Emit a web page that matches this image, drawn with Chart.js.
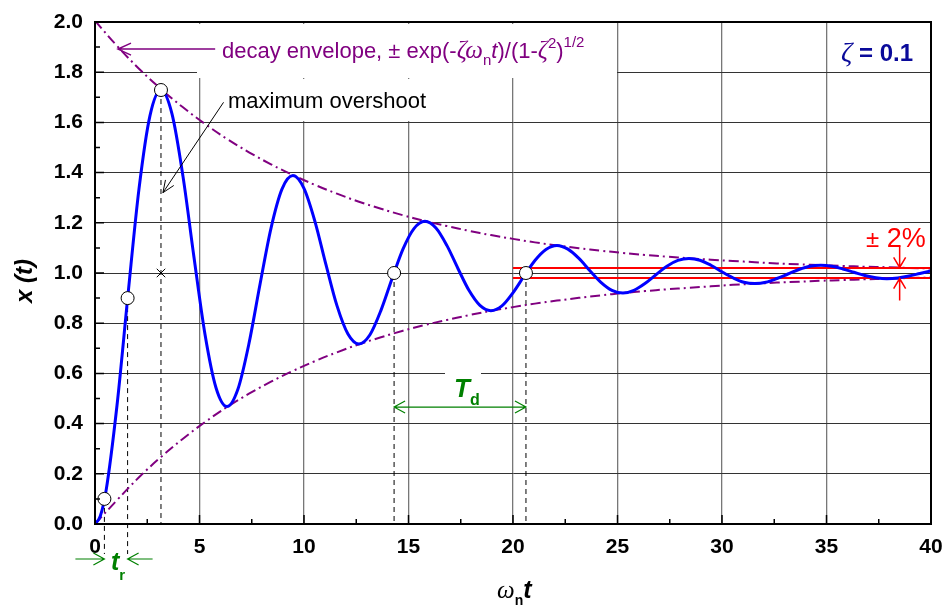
<!DOCTYPE html>
<html>
<head>
<meta charset="utf-8">
<script src="https://cdn.jsdelivr.net/npm/chart.js@4.4.0/dist/chart.umd.min.js"></script>
<style>
  html, body { margin: 0; padding: 0; background: #fff; }
  #wrap { width: 945px; height: 608px; }
</style>
</head>
<body>
<div id="wrap"><canvas id="resp"></canvas></div>
<script>
// step response, zeta = 0.1
const respT = [0, 0.25, 0.526, 1.052, 1.579, 2.105, 2.631, 3.157, 3.684, 4.210, 4.736, 5.262, 5.789, 6.315,
  6.841, 7.367, 7.894, 8.420, 8.946, 9.472, 9.998, 10.525, 11.051, 11.577, 12.103, 12.630, 13.156, 13.682,
  14.208, 14.735, 15.261, 15.787, 16.313, 16.840, 17.366, 17.892, 18.418, 18.944, 19.471, 19.997, 20.523,
  21.049, 21.576, 22.102, 22.628, 23.154, 23.681, 24.207, 24.733, 25.259, 25.786, 26.312, 26.838, 27.364,
  27.890, 28.417, 28.943, 29.469, 29.995, 30.522, 31.048, 31.574, 32.100, 32.627, 33.153, 33.679, 34.205,
  34.732, 35.258, 35.784, 36.310, 36.836, 37.363, 37.889, 38.415, 38.941, 39.468, 40.0];
const respX = [0, 0.031, 0.131, 0.472, 0.914, 1.335, 1.627, 1.729, 1.634, 1.385, 1.063, 0.756, 0.543, 0.468,
  0.538, 0.719, 0.954, 1.178, 1.334, 1.388, 1.337, 1.205, 1.033, 0.870, 0.757, 0.717, 0.754, 0.851,
  0.976, 1.095, 1.177, 1.206, 1.179, 1.109, 1.018, 0.931, 0.871, 0.850, 0.869, 0.921, 0.987,
  1.050, 1.094, 1.110, 1.095, 1.058, 1.009, 0.963, 0.931, 0.920, 0.931, 0.958, 0.993, 1.027,
  1.050, 1.058, 1.051, 1.031, 1.005, 0.981, 0.963, 0.958, 0.963, 0.978, 0.996, 1.014, 1.027,
  1.031, 1.027, 1.016, 1.003, 0.990, 0.981, 0.977, 0.980, 0.988, 0.998, 1.008];

// decay envelope
const envT = [0, 1.052, 2.105, 3.157, 4.210, 5.262, 6.315, 7.367, 8.420, 9.472, 10.525, 11.577, 12.630,
  13.682, 14.735, 15.787, 16.840, 17.892, 18.944, 19.997, 21.049, 22.102, 23.154, 24.207, 25.259, 26.312,
  27.364, 28.417, 29.469, 30.522, 31.574, 32.627, 33.679, 34.732, 35.784, 36.836, 37.889, 38.941, 40.0];
const envUpper = [2.005, 1.905, 1.814, 1.733, 1.660, 1.594, 1.534, 1.481, 1.433, 1.390, 1.351, 1.316, 1.284,
  1.256, 1.230, 1.207, 1.187, 1.168, 1.151, 1.136, 1.122, 1.110, 1.099, 1.089, 1.080, 1.072,
  1.065, 1.059, 1.053, 1.048, 1.043, 1.038, 1.035, 1.031, 1.028, 1.025, 1.023, 1.020, 1.018];
const envLower = [0, 0.095, 0.186, 0.267, 0.340, 0.406, 0.466, 0.519, 0.567, 0.610, 0.649, 0.684, 0.716,
  0.744, 0.770, 0.793, 0.813, 0.832, 0.849, 0.864, 0.878, 0.890, 0.901, 0.911, 0.920, 0.928,
  0.935, 0.941, 0.947, 0.953, 0.957, 0.962, 0.965, 0.969, 0.972, 0.975, 0.977, 0.980, 0.982];

// +-2% settling band
const bandT = [20, 40];
const bandHi = [1.02, 1.02];
const bandLo = [0.98, 0.98];

// marked points: 10%, 90%, peak, two crossings of 1.0
const markT = [0.45, 1.56, 3.157, 14.31, 20.62];
const markX = [0.1, 0.9, 1.729, 1.0, 1.0];
const crossT = [3.157];
const crossX = [1.0];

const pts = (xs, ys) => xs.map((v, i) => ({ x: v, y: ys[i] }));

Chart.defaults.font.family = '"Liberation Sans", Arial, sans-serif';
Chart.defaults.color = '#000';

const SANS = '"Liberation Sans", Arial, sans-serif';
const SERIF = '"Liberation Serif", "Times New Roman", serif';

function arrow(ctx, x1, y1, x2, y2, len, wid) {
  const a = Math.atan2(y2 - y1, x2 - x1);
  const c = Math.cos(a), s = Math.sin(a);
  ctx.beginPath();
  ctx.moveTo(x1, y1);
  ctx.lineTo(x2, y2);
  ctx.moveTo(x2 - len * c + wid * s, y2 - len * s - wid * c);
  ctx.lineTo(x2, y2);
  ctx.lineTo(x2 - len * c - wid * s, y2 - len * s + wid * c);
  ctx.stroke();
}

function rich(ctx, x, y, parts) {
  parts.forEach(([txt, font, dy]) => {
    ctx.font = font;
    ctx.fillText(txt, x, y + (dy || 0));
    x += ctx.measureText(txt).width;
  });
  return x;
}

const decor = {
  id: 'decor',
  beforeDatasetsDraw(chart) {
    const { ctx, chartArea: a, scales: { x, y } } = chart;
    ctx.save();
    // white boxes behind the labels
    ctx.fillStyle = '#fff';
    ctx.fillRect(197, a.top + 2, 420, 54);
    ctx.fillRect(203, 79, 267, 42);
    ctx.fillRect(445, 362, 36, 40);
    // dashed drop lines
    ctx.strokeStyle = '#000';
    ctx.lineWidth = 1;
    ctx.setLineDash([5, 4]);
    markT.forEach((t, i) => {
      const px = x.getPixelForValue(t);
      const bottom = i < 2 ? a.bottom + 30 : a.bottom;
      ctx.beginPath();
      ctx.moveTo(px, y.getPixelForValue(markX[i]));
      ctx.lineTo(px, bottom);
      ctx.stroke();
    });
    ctx.restore();
  },
  afterDatasetsDraw(chart) {
    const { ctx, chartArea: a, scales: { x, y } } = chart;
    ctx.save();
    ctx.textBaseline = 'alphabetic';

    // decay envelope label + arrow
    ctx.strokeStyle = '#800080';
    ctx.fillStyle = '#800080';
    ctx.lineWidth = 1.5;
    arrow(ctx, x.getPixelForValue(5.75), y.getPixelForValue(1.892), x.getPixelForValue(1.1), y.getPixelForValue(1.892), 13, 6);
    rich(ctx, 222, 58, [
      ['decay envelope, \u00b1 exp(-', '22px ' + SANS],
      ['\u03b6\u03c9', 'italic 25px ' + SERIF],
      ['n', '15px ' + SANS, 7],
      ['t', 'italic 22px ' + SANS],
      [')/(1-', '22px ' + SANS],
      ['\u03b6', 'italic 25px ' + SERIF],
      ['2', '15px ' + SANS, -10],
      [')', '22px ' + SANS],
      ['1/2', '15px ' + SANS, -11]
    ]);

    // zeta
    ctx.fillStyle = '#0a0a9a';
    rich(ctx, 841, 61, [
      ['\u03b6', 'italic 28px ' + SERIF],
      [' = 0.1', 'bold 24px ' + SANS]
    ]);

    // maximum overshoot
    ctx.fillStyle = '#000';
    ctx.strokeStyle = '#000';
    ctx.lineWidth = 1;
    ctx.font = '22px ' + SANS;
    ctx.fillText('maximum overshoot', 228, 108);
    arrow(ctx, x.getPixelForValue(6.15), y.getPixelForValue(1.68), x.getPixelForValue(3.25), y.getPixelForValue(1.32), 12, 5);

    // Td
    ctx.strokeStyle = '#008000';
    ctx.fillStyle = '#008000';
    ctx.lineWidth = 1.2;
    const tdY = y.getPixelForValue(0.466);
    const tdA = x.getPixelForValue(markT[3]), tdB = x.getPixelForValue(markT[4]);
    arrow(ctx, (tdA + tdB) / 2, tdY, tdA, tdY, 11, 6);
    arrow(ctx, (tdA + tdB) / 2, tdY, tdB, tdY, 11, 6);
    rich(ctx, 454, 397, [
      ['T', 'italic bold 26px ' + SANS],
      ['d', 'bold 16px ' + SANS, 8]
    ]);

    // tr
    const r1 = x.getPixelForValue(markT[0]), r2 = x.getPixelForValue(markT[1]);
    const rY = a.bottom + 35;
    arrow(ctx, r1 - 29, rY, r1, rY, 11, 6);
    arrow(ctx, r2 + 25, rY, r2, rY, 11, 6);
    rich(ctx, 111, 570, [
      ['t', 'italic bold 25px ' + SANS],
      ['r', 'bold 15px ' + SANS, 10]
    ]);

    // +-2% band arrows
    ctx.strokeStyle = '#ff0000';
    ctx.fillStyle = '#ff0000';
    ctx.lineWidth = 1.5;
    const bx = x.getPixelForValue(38.5);
    arrow(ctx, bx, y.getPixelForValue(1.11), bx, y.getPixelForValue(1.022), 10, 6);
    arrow(ctx, bx, y.getPixelForValue(0.89), bx, y.getPixelForValue(0.978), 10, 6);
    rich(ctx, 866, 247, [
      ['\u00b1', '24px ' + SANS],
      [' 2%', '27px ' + SANS]
    ]);
    ctx.restore();
  },
  afterDraw(chart) {
    const { ctx, chartArea: a, scales: { x, y } } = chart;
    ctx.save();
    // frame
    ctx.strokeStyle = '#000';
    ctx.lineWidth = 2;
    ctx.strokeRect(a.left, a.top, a.right - a.left, a.bottom - a.top);
    // inward ticks
    ctx.lineWidth = 1.5;
    ctx.beginPath();
    for (let v = 0; v <= 40.01; v += 2.5) {
      const px = x.getPixelForValue(v);
      const len = Math.abs(v % 5) < 0.01 ? 9 : 5;
      ctx.moveTo(px, a.bottom);
      ctx.lineTo(px, a.bottom - len);
    }
    for (let k = 0; k <= 20; k++) {
      const py = y.getPixelForValue(k / 10);
      const len = k % 2 === 0 ? 9 : 5;
      ctx.moveTo(a.left, py);
      ctx.lineTo(a.left + len, py);
    }
    ctx.stroke();

    // axis titles
    ctx.fillStyle = '#000';
    ctx.textBaseline = 'alphabetic';
    rich(ctx, 497, 598, [
      ['\u03c9', 'italic 25px ' + SERIF],
      ['n', 'bold 14px ' + SANS, 7],
      ['t', 'italic bold 25px ' + SANS]
    ]);
    ctx.translate(32, 281);
    ctx.rotate(-Math.PI / 2);
    ctx.textAlign = 'center';
    ctx.font = 'italic bold 24px ' + SANS;
    ctx.fillText('x (t)', 0, 0);
    ctx.restore();
  }
};

new Chart(document.getElementById('resp'), {
  type: 'scatter',
  data: {
    datasets: [
      {
        data: pts(markT, markX),
        pointRadius: 6.5,
        pointBackgroundColor: '#fff',
        pointBorderColor: '#000',
        pointBorderWidth: 1
      },
      {
        data: pts(crossT, crossX),
        pointStyle: 'crossRot',
        pointRadius: 6,
        pointBorderColor: '#000',
        pointBorderWidth: 1
      },
      {
        data: pts(respT, respX),
        showLine: true,
        borderColor: '#0000ff',
        borderWidth: 3,
        pointRadius: 0,
        cubicInterpolationMode: 'monotone'
      },
      {
        data: pts(bandT, bandHi),
        showLine: true,
        borderColor: '#ff0000',
        borderWidth: 2,
        pointRadius: 0
      },
      {
        data: pts(bandT, bandLo),
        showLine: true,
        borderColor: '#ff0000',
        borderWidth: 2,
        pointRadius: 0
      },
      {
        data: pts(envT, envUpper),
        showLine: true,
        borderColor: '#800080',
        borderWidth: 2,
        borderDash: [10, 4, 2, 4],
        pointRadius: 0,
        tension: 0.4
      },
      {
        data: pts(envT, envLower),
        showLine: true,
        borderColor: '#800080',
        borderWidth: 2,
        borderDash: [10, 4, 2, 4],
        pointRadius: 0,
        tension: 0.4
      }
    ]
  },
  options: {
    responsive: true,
    maintainAspectRatio: false,
    animation: false,
    layout: { padding: { left: 0, top: 22, right: 14, bottom: 0 } },
    plugins: { legend: { display: false }, tooltip: { enabled: false } },
    scales: {
      x: {
        type: 'linear',
        min: 0,
        max: 40,
        afterFit: s => { s.height = 84; s.paddingLeft = 0; s.paddingRight = 0; },
        ticks: { stepSize: 5, padding: 11, autoSkip: false, maxRotation: 0, font: { size: 21, weight: 'bold' } },
        grid: { color: '#777', lineWidth: 1.3, drawTicks: false },
        border: { color: '#000', width: 2 }
      },
      y: {
        min: 0,
        max: 2,
        afterFit: s => { s.width = 95; s.paddingTop = 0; s.paddingBottom = 0; },
        ticks: { stepSize: 0.2, padding: 12, font: { size: 21, weight: 'bold' }, callback: v => v.toFixed(1) },
        grid: { color: '#333', lineWidth: 1, drawTicks: false },
        border: { color: '#000', width: 2 }
      }
    }
  },
  plugins: [decor]
});
</script>
</body>
</html>
